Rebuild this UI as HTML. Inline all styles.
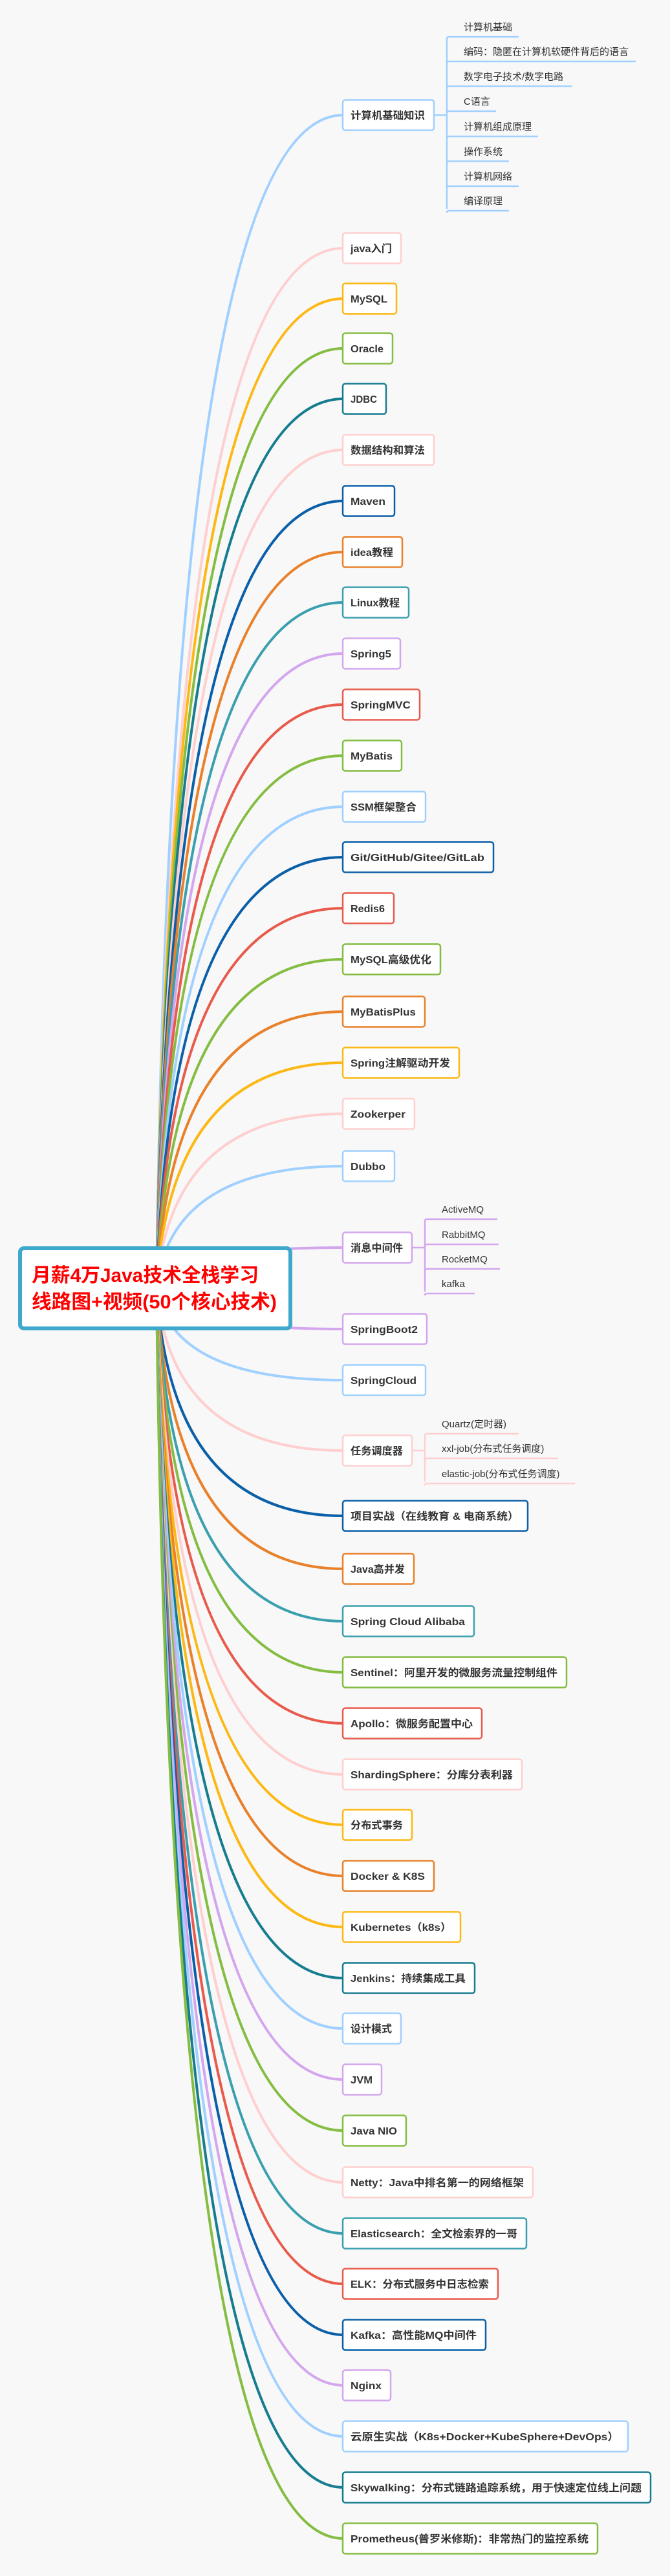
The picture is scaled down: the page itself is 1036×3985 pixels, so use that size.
<!DOCTYPE html>
<html><head><meta charset="utf-8"><style>
html,body{margin:0;padding:0;background:#f8f8f8;}
svg{display:block;}
text{font-family:"Liberation Sans","Noto Sans CJK SC",sans-serif;}
.n{font-size:16px;font-weight:bold;fill:#333;}
.s{font-size:15px;fill:#333;}
</style></head><body>
<svg width="1036" height="3985" viewBox="0 0 1036 3985" xmlns="http://www.w3.org/2000/svg">
<rect width="1036" height="3985" fill="#f8f8f8"/>
<g id="curves" fill="none" stroke-width="4" stroke-linecap="round"></g>
<g id="subs" fill="none" stroke-width="2.5"></g>
<g id="nodes"></g>
<rect x="31" y="1931" width="418" height="124" rx="6" fill="#fff" stroke="#3fa9cd" stroke-width="6"/>
<text x="49" y="1983" font-size="30" font-weight="bold" fill="#ff0000" textLength="351" lengthAdjust="spacingAndGlyphs">月薪4万Java技术全栈学习</text>
<text x="49" y="2024" font-size="30" font-weight="bold" fill="#ff0000" textLength="379" lengthAdjust="spacingAndGlyphs">线路图+视频(50个核心技术)</text>
</svg>
<script>
var C={lb:"#a0d0ff",pk:"#ffcfcf",ye:"#fcb814",gr:"#84bd42",dt:"#167c90",db:"#0a5fa8",or:"#e9802a",te:"#3a9fae",la:"#d3a6ee",re:"#e85b4c"};
var N=[
["计算机基础知识",178,672,"lb"],["java入门",384,621,"pk"],["MySQL",462,614,"ye"],["Oracle",539,608,"gr"],["JDBC",617,598,"dt"],
["数据结构和算法",696,672,"pk"],["Maven",775,611,"db"],["idea教程",854,623,"or"],["Linux教程",932,633,"te"],["Spring5",1011,620,"la"],
["SpringMVC",1090,650,"re"],["MyBatis",1169,622,"gr"],["SSM框架整合",1248,659,"lb"],["Git/GitHub/Gitee/GitLab",1326,764,"db"],["Redis6",1405,610,"re"],
["MySQL高级优化",1484,682,"gr"],["MyBatisPlus",1565,658,"or"],["Spring注解驱动开发",1644,711,"ye"],["Zookerper",1723,642,"pk"],["Dubbo",1804,611,"lb"],
["消息中间件",1930,638,"la"],["SpringBoot2",2056,661,"la"],["SpringCloud",2135,659,"lb"],["任务调度器",2244,638,"pk"],
["项目实战（在线教育 & 电商系统）",2345,817,"db"],["Java高并发",2427,641,"or"],["Spring Cloud Alibaba",2508,734,"te"],["Sentinel：阿里开发的微服务流量控制组件",2587,877,"gr"],
["Apollo：微服务配置中心",2666,746,"re"],["ShardingSphere：分库分表利器",2745,808,"pk"],["分布式事务",2823,638,"ye"],["Docker & K8S",2902,672,"or"],
["Kubernetes（k8s）",2981,713,"ye"],["Jenkins：持续集成工具",3060,735,"dt"],["设计模式",3138,621,"lb"],["JVM",3217,591,"la"],["Java NIO",3296,629,"gr"],
["Netty：Java中排名第一的网络框架",3376,825,"pk"],["Elasticsearch：全文检索界的一哥",3455,815,"te"],["ELK：分布式服务中日志检索",3533,771,"re"],
["Kafka：高性能MQ中间件",3612,752,"db"],["Nginx",3690,605,"la"],["云原生实战（K8s+Docker+KubeSphere+DevOps）",3769,972,"lb"],
["Skywalking：分布式链路追踪系统，用于快速定位线上问题",3848,1007,"dt"],["Prometheus(普罗米修斯)：非常热门的监控系统",3927,925,"gr"]];
var ns="http://www.w3.org/2000/svg";
function el(t,a,p,txt){var e=document.createElementNS(ns,t);for(var k in a)e.setAttribute(k,a[k]);if(txt)e.textContent=txt;p.appendChild(e);return e;}
var cg=document.getElementById("curves"),ng=document.getElementById("nodes"),sg=document.getElementById("subs");
N.forEach(function(n){var y=n[1],col=C[n[3]];
 el("path",{d:"M242 1992 Q264 "+y+" 531 "+y,stroke:col},cg);
 var w=n[2]-529;
 el("rect",{x:530,y:y-23.5,width:w-2,height:47,rx:4,fill:"#fff",stroke:col,"stroke-width":2.5},ng);
 var t=el("text",{x:542,y:y+6,"class":"n"},ng,n[0]);
 t.setAttribute("textLength",w-28);t.setAttribute("lengthAdjust","spacingAndGlyphs");
});
function subs(px,by,bx,col,items){
 var ys=items.map(function(i){return i[1];});
 el("path",{d:"M"+px+" "+by+" H"+bx,stroke:col},sg);
 el("path",{d:"M"+bx+" "+(ys[0]+3)+" V"+(ys[ys.length-1]-3),stroke:col},sg);
 items.forEach(function(i){
  el("path",{d:"M"+bx+" "+(i[1]+3)+" Q"+bx+" "+i[1]+" "+(bx+3)+" "+i[1]+" H"+i[2],stroke:col},sg);
  var t=el("text",{x:bx+26,y:i[1]-10,"class":"s"},sg,i[0]);t.setAttribute("fill","#333");t.setAttribute("stroke","none");
 });
}
subs(672,178,691,C.lb,[["计算机基础",57,802],["编码：隐匿在计算机软硬件背后的语言",95,983],["数字电子技术/数字电路",133.5,884],["C语言",172,767],["计算机组成原理",211,832],["操作系统",249.5,787],["计算机网络",288,802],["编译原理",326,787]]);
subs(638,1930,657,C.la,[["ActiveMQ",1886,769],["RabbitMQ",1925,771],["RocketMQ",1963,773],["kafka",2001,734]]);
subs(638,2244,657,C.pk,[["Quartz(定时器)",2218,802],["xxl-job(分布式任务调度)",2256,863],["elastic-job(分布式任务调度)",2295,889]]);
</script>
</body></html>
